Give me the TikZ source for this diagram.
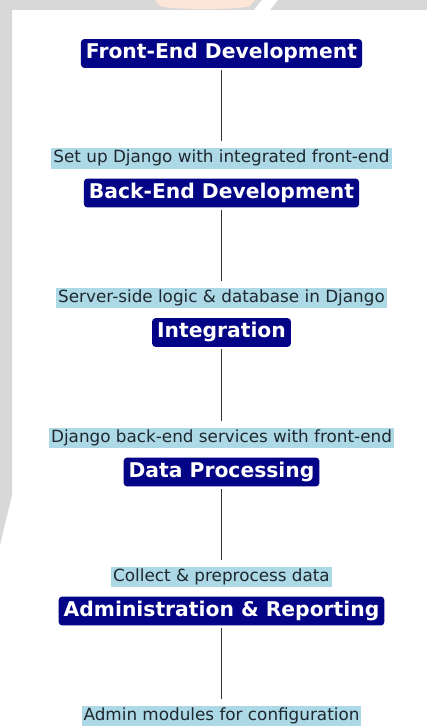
\documentclass[tikz,border=0pt]{standalone}
\usepackage{fontspec}
\setmainfont{DejaVu Sans}
\definecolor{boxblue}{RGB}{4,4,134}
\definecolor{lblbg}{RGB}{173,216,230}
\definecolor{lbltext}{RGB}{30,40,46}
\definecolor{wmgray}{RGB}{216,216,216}
\definecolor{wmorange}{RGB}{253,229,216}
\definecolor{linegray}{RGB}{50,50,50}
\tikzset{
  stagebox/.style={fill=boxblue, text=white, rounded corners=3.5pt,
    font=\bfseries\fontsize{20.3}{24}\selectfont,
    text height=15.5pt, text depth=4.6pt, inner xsep=5pt, inner ysep=4.4pt},
  desclabel/.style={fill=lblbg, text=lbltext,
    font=\fontsize{16.8}{20}\selectfont,
    text height=12.8pt, text depth=3.9pt, inner xsep=2pt, inner ysep=1.8pt},
  link/.style={draw=linegray, line width=1.8pt, shorten <=2pt, shorten >=7pt}
}
\begin{document}
\begin{tikzpicture}[x=1pt,y=-1pt]
\useasboundingbox (0,0) rectangle (427,726);
\fill[white] (0,0) rectangle (427,726);
% watermark bands
\fill[wmgray] (0,0) rectangle (427,10);
\fill[wmgray] (0,0) -- (12,0) -- (12,495) -- (0,545) -- cycle;
\fill[wmorange] (155,0) -- (255,0) -- (250,6) .. controls (240,10) and (170,10) .. (160,6) -- cycle;
\fill[white] (262,0) -- (278,0) -- (270,10) -- (254,10) -- cycle;
% stages
\node[stagebox] (fe) at (221.5,53.5) {Front-End Development};
\node[desclabel] (l1) at (221.5,158.5) {Set up Django with integrated front-end};
\node[stagebox] (be) at (221.5,193) {Back-End Development};
\node[desclabel] (l2) at (221.5,298) {Server-side logic \& database in Django};
\node[stagebox] (in) at (221.5,332.5) {Integration};
\node[desclabel] (l3) at (221.5,438) {Django back-end services with front-end};
\node[stagebox] (dp) at (221.5,472) {Data Processing};
\node[desclabel] (l4) at (221.5,577) {Collect \& preprocess data};
\node[stagebox] (ad) at (221.5,611) {Administration \& Reporting};
\node[desclabel] (l5) at (221.5,716.5) {Admin modules for configuration};
% connectors
\draw[link] (fe.south) -- (l1.north);
\draw[link] (be.south) -- (l2.north);
\draw[link] (in.south) -- (l3.north);
\draw[link] (dp.south) -- (l4.north);
\draw[link] (ad.south) -- (l5.north);
\end{tikzpicture}
\end{document}
